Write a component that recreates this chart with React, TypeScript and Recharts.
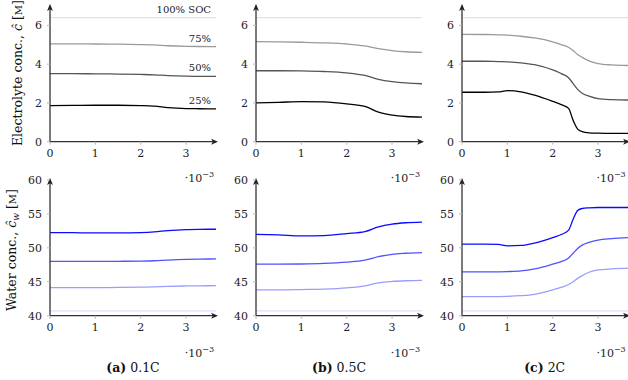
import React from 'react';
import { LineChart, Line, XAxis, YAxis } from 'recharts';

// ---------- data ----------
const xA = [0, 0.5, 1, 1.5, 2, 2.3, 2.6, 3, 3.3, 3.66];
const elA100 = [6.4, 6.4, 6.4, 6.4, 6.4, 6.4, 6.4, 6.4, 6.4, 6.4];
const elA75 = [5.05, 5.05, 5.04, 5.03, 5.01, 4.99, 4.95, 4.92, 4.91, 4.9];
const elA50 = [3.51, 3.51, 3.5, 3.49, 3.47, 3.45, 3.41, 3.38, 3.37, 3.37];
const elA25 = [1.86, 1.87, 1.88, 1.88, 1.86, 1.83, 1.76, 1.71, 1.7, 1.69];
const wA25 = [52.25, 52.23, 52.2, 52.2, 52.25, 52.35, 52.55, 52.7, 52.73, 52.74];
const wA50 = [48.0, 48.0, 48.0, 48.02, 48.05, 48.1, 48.2, 48.3, 48.34, 48.36];
const wA75 = [44.13, 44.13, 44.14, 44.16, 44.2, 44.25, 44.32, 44.38, 44.4, 44.42];
const wA100 = [40.72, 40.72, 40.72, 40.72, 40.72, 40.72, 40.72, 40.72, 40.72, 40.72];

const xB = [0, 0.5, 1, 1.5, 2, 2.4, 2.7, 3, 3.3, 3.66];
const elB100 = [6.4, 6.4, 6.4, 6.4, 6.4, 6.4, 6.4, 6.4, 6.4, 6.4];
const elB75 = [5.16, 5.15, 5.13, 5.1, 5.04, 4.94, 4.8, 4.7, 4.64, 4.61];
const elB50 = [3.66, 3.66, 3.65, 3.62, 3.55, 3.42, 3.22, 3.1, 3.03, 2.99];
const elB25 = [2.0, 2.03, 2.07, 2.05, 1.95, 1.82, 1.52, 1.37, 1.3, 1.27];
const wB25 = [52.0, 51.9, 51.75, 51.8, 52.1, 52.4, 53.1, 53.5, 53.7, 53.8];
const wB50 = [47.6, 47.6, 47.62, 47.7, 47.9, 48.2, 48.7, 49.05, 49.2, 49.3];
const wB75 = [43.8, 43.8, 43.85, 43.92, 44.1, 44.4, 44.85, 45.05, 45.15, 45.2];
const wB100 = [40.72, 40.72, 40.72, 40.72, 40.72, 40.72, 40.72, 40.72, 40.72, 40.72];

const xC = [0, 0.5, 0.8, 1, 1.3, 1.6, 2, 2.2, 2.35, 2.45, 2.55, 2.65, 2.8, 3, 3.3, 3.66];
const elC100 = [6.4, 6.4, 6.4, 6.4, 6.4, 6.4, 6.4, 6.4, 6.4, 6.4, 6.4, 6.4, 6.4, 6.4, 6.4, 6.4];
const elC75 = [5.54, 5.53, 5.51, 5.5, 5.44, 5.35, 5.15, 5.0, 4.87, 4.7, 4.5, 4.35, 4.17, 4.03, 3.96, 3.93];
const elC50 = [4.15, 4.15, 4.13, 4.12, 4.07, 3.97, 3.7, 3.5, 3.3, 3.0, 2.7, 2.5, 2.35, 2.22, 2.17, 2.15];
const elC25 = [2.55, 2.55, 2.57, 2.63, 2.57, 2.4, 2.08, 1.9, 1.72, 1.1, 0.65, 0.52, 0.46, 0.44, 0.43, 0.43];
const wC25 = [50.55, 50.55, 50.5, 50.3, 50.35, 50.7, 51.5, 52.0, 52.6, 54.2, 55.5, 55.8, 55.9, 55.95, 55.95, 55.95];
const wC50 = [46.45, 46.45, 46.47, 46.5, 46.6, 46.9, 47.6, 48.0, 48.5, 49.2, 49.9, 50.4, 50.8, 51.15, 51.35, 51.5];
const wC75 = [42.8, 42.8, 42.82, 42.85, 42.95, 43.15, 43.8, 44.2, 44.6, 45.0, 45.5, 45.9, 46.4, 46.75, 46.9, 47.0];
const wC100 = [40.72, 40.72, 40.72, 40.72, 40.72, 40.72, 40.72, 40.72, 40.72, 40.72, 40.72, 40.72, 40.72, 40.72, 40.72, 40.72];

const xTicks = [0, 1, 2, 3];
const elTicks = [0, 2, 4, 6];
const wTicks = [40, 45, 50, 55, 60];
const captions = [
  { tag: '(a)', rate: '0.1C' },
  { tag: '(b)', rate: '0.5C' },
  { tag: '(c)', rate: '2C' },
];
const socLabels = ['100% SOC', '75%', '50%', '25%'];

// ---------- layout ----------
const FONT = "'DejaVu Serif', serif";
const PLOT_LEFT = [50, 256, 461.7];
const PLOT_TOP = [6.3, 180];
const PLOT_W = 166;
const PLOT_H = 135.7;
const Y_W = 40;
const M_TOP = 10;
const M_RIGHT = 10;
const X_H = 30;

const grayColors = ['#e2e2e2', '#9a9a9a', '#555555', '#000000'];
const blueColors = ['#dcdcff', '#9c9cff', '#5252ff', '#0a0aff'];

function rows(x: number[], s100: number[], s75: number[], s50: number[], s25: number[]) {
  return x.map((v, i) => ({ x: v, s100: s100[i], s75: s75[i], s50: s50[i], s25: s25[i] }));
}

const elData = [
  rows(xA, elA100, elA75, elA50, elA25),
  rows(xB, elB100, elB75, elB50, elB25),
  rows(xC, elC100, elC75, elC50, elC25),
];
const wData = [
  rows(xA, wA100, wA75, wA50, wA25),
  rows(xB, wB100, wB75, wB50, wB25),
  rows(xC, wC100, wC75, wC50, wC25),
];

const tickStyle = { fontSize: 11, fill: '#222', fontFamily: FONT };
const txt = { fontFamily: FONT };

function Panel(props: {
  left: number;
  top: number;
  data: any[];
  colors: string[];
  domain: [number, number];
  yTicks: number[];
}) {
  const { left, top, data, colors, domain, yTicks } = props;
  const keys = ['s100', 's75', 's50', 's25'];
  return (
    <div style={{ position: 'absolute', left: left - Y_W, top: top - M_TOP }}>
      <LineChart
        width={Y_W + PLOT_W + M_RIGHT}
        height={M_TOP + PLOT_H + X_H}
        data={data}
        margin={{ top: M_TOP, right: M_RIGHT, bottom: 0, left: 0 }}
      >
        <XAxis
          type="number"
          dataKey="x"
          domain={[0, 3.66]}
          ticks={xTicks}
          allowDataOverflow
          height={X_H}
          tickSize={3}
          tickMargin={5}
          tick={tickStyle}
          tickLine={{ stroke: '#b5b5b5' }}
          axisLine={{ stroke: '#333', strokeWidth: 1.3, markerEnd: 'url(#axArrow)' } as any}
        />
        <YAxis
          type="number"
          domain={domain}
          ticks={yTicks}
          allowDataOverflow
          width={Y_W}
          tickSize={3}
          tickMargin={5}
          tick={tickStyle}
          tickLine={{ stroke: '#b5b5b5' }}
          axisLine={{ stroke: '#333', strokeWidth: 1.3, markerStart: 'url(#axArrow)' } as any}
        />
        {keys.map((k, i) => (
          <Line
            key={k}
            dataKey={k}
            type="monotone"
            stroke={colors[i]}
            strokeWidth={1.3}
            dot={false}
            activeDot={false}
            isAnimationActive={false}
          />
        ))}
      </LineChart>
    </div>
  );
}

export default function App() {
  return (
    <div
      style={{
        position: 'absolute',
        left: 0,
        top: 0,
        width: 628,
        height: 380,
        overflow: 'hidden',
        background: '#fff',
      }}
    >
      <svg width={0} height={0} style={{ position: 'absolute' }}>
        <defs>
          <marker
            id="axArrow"
            viewBox="0 0 10 10"
            refX={7}
            refY={5}
            markerWidth={7}
            markerHeight={7}
            markerUnits="userSpaceOnUse"
            orient="auto-start-reverse"
          >
            <path d="M0,0.8 L10,5 L0,9.2 L2.5,5 z" fill="#222" />
          </marker>
        </defs>
      </svg>
      {PLOT_LEFT.map((pl, i) => (
        <Panel
          key={'el' + i}
          left={pl}
          top={PLOT_TOP[0]}
          data={elData[i]}
          colors={grayColors}
          domain={[0, 7]}
          yTicks={elTicks}
        />
      ))}
      {PLOT_LEFT.map((pl, i) => (
        <Panel
          key={'w' + i}
          left={pl}
          top={PLOT_TOP[1]}
          data={wData[i]}
          colors={blueColors}
          domain={[40, 60]}
          yTicks={wTicks}
        />
      ))}
      <svg
        width={628}
        height={380}
        style={{ position: 'absolute', left: 0, top: 0, pointerEvents: 'none' }}
      >
        {/* SOC labels */}
        <text x={211} y={13.3} textAnchor="end" fontSize={10} fill="#222" style={txt}>{socLabels[0]}</text>
        <text x={211} y={42.3} textAnchor="end" fontSize={10} fill="#222" style={txt}>{socLabels[1]}</text>
        <text x={211} y={71.3} textAnchor="end" fontSize={10} fill="#222" style={txt}>{socLabels[2]}</text>
        <text x={211} y={104} textAnchor="end" fontSize={10} fill="#222" style={txt}>{socLabels[3]}</text>

        {/* y-axis titles */}
        <text
          transform="translate(21.5,73) rotate(-90)"
          textAnchor="middle"
          fontSize={12.5}
          fill="#111"
          style={txt}
        >
          Electrolyte conc.,{' '}
          <tspan fontStyle="italic">ĉ</tspan> [<tspan fontSize={10}>M</tspan>]
        </text>
        <text
          transform="translate(15.5,250) rotate(-90)"
          textAnchor="middle"
          fontSize={12.5}
          fill="#111"
          style={txt}
        >
          Water conc.,{' '}
          <tspan fontStyle="italic">ĉ</tspan>
          <tspan fontSize={9} dy={3} fontStyle="italic">w</tspan>
          <tspan dy={-3}> [</tspan>
          <tspan fontSize={10}>M</tspan>]
        </text>

        {/* exponent labels */}
        {PLOT_LEFT.map((pl, i) => (
          <g key={'e' + i}>
            <text x={pl + 164} y={181.5} textAnchor="end" fontSize={11} fill="#222" style={txt}>
              ·10<tspan fontSize={8} dy={-5}>−3</tspan>
            </text>
            <text x={pl + 164} y={356.5} textAnchor="end" fontSize={11} fill="#222" style={txt}>
              ·10<tspan fontSize={8} dy={-5}>−3</tspan>
            </text>
          </g>
        ))}

        {/* captions */}
        {captions.map((c, i) => (
          <text
            key={'c' + i}
            x={PLOT_LEFT[i] + 83}
            y={372}
            textAnchor="middle"
            fontSize={12.5}
            fill="#111"
            style={txt}
          >
            <tspan fontWeight="bold">{c.tag}</tspan> {c.rate}
          </text>
        ))}
      </svg>
    </div>
  );
}
